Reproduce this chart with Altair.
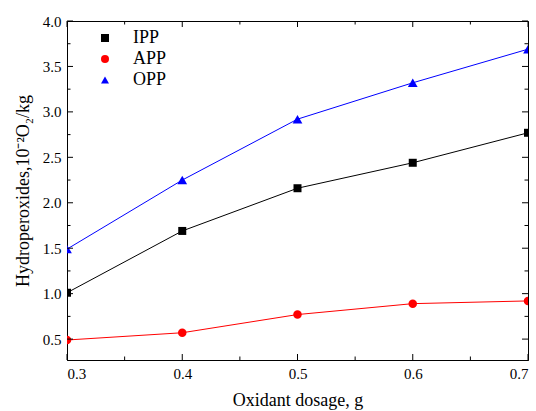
import altair as alt
import pandas as pd

# Hydroperoxide content versus oxidant dosage for three samples
dosage = [0.3, 0.4, 0.5, 0.6, 0.7]
ipp = [1.01, 1.69, 2.16, 2.44, 2.77]
app = [0.49, 0.57, 0.77, 0.89, 0.92]
opp = [1.49, 2.25, 2.92, 3.32, 3.69]

series_names = ["IPP", "APP", "OPP"]
series_colors = ["#000000", "#ff0000", "#0000ff"]
marker_shapes = ["square", "circle", "triangle-up"]
marker_sizes = [64, 72, 95]

x_major = [0.3, 0.4, 0.5, 0.6, 0.7]
x_minor = [0.35, 0.45, 0.55, 0.65]
y_major = [0.5, 1.0, 1.5, 2.0, 2.5, 3.0, 3.5, 4.0]
y_minor = [0.75, 1.25, 1.75, 2.25, 2.75, 3.25, 3.75]

X_MIN, X_MAX = 0.3, 0.7
Y_MIN, Y_MAX = 0.27, 4.0
W, H = 461, 339
MAJOR_LEN, MINOR_LEN = 6, 3.5  # tick lengths in pixels
FONT = "Liberation Serif"

rows = []
for name, vals in zip(series_names, [ipp, app, opp]):
    for d, v in zip(dosage, vals):
        rows.append({"dosage": d, "value": v, "series": name})
df = pd.DataFrame(rows)

x_scale = alt.Scale(domain=[X_MIN, X_MAX], nice=False, zero=False)
y_scale = alt.Scale(domain=[Y_MIN, Y_MAX], nice=False, zero=False)

x_axis = alt.Axis(values=x_major, format=".1f", ticks=False, labelPadding=6,
                  domain=True, title="Oxidant dosage, g", titlePadding=10)
y_axis = alt.Axis(values=y_major, format=".1f", ticks=False, labelPadding=6,
                  domain=True, title="Hydroperoxides,10\u207b\u00b2O\u2082/kg",
                  titlePadding=10)

# pixel tick lengths expressed in data units of each axis
x_per_px = (X_MAX - X_MIN) / W
y_per_px = (Y_MAX - Y_MIN) / H

# inward ticks: vertical ones on the bottom/top edges, horizontal ones on left/right
xt_rows = []
for vals, length in [(x_major, MAJOR_LEN), (x_minor, MINOR_LEN)]:
    dy = length * y_per_px
    for v in vals:
        xt_rows.append({"dosage": v, "y0": Y_MIN, "y1": Y_MIN + dy})
        xt_rows.append({"dosage": v, "y0": Y_MAX - dy, "y1": Y_MAX})
x_ticks_df = pd.DataFrame(xt_rows)

yt_rows = []
for vals, length in [(y_major, MAJOR_LEN), (y_minor, MINOR_LEN)]:
    dx = length * x_per_px
    for v in vals:
        yt_rows.append({"value": v, "x0": X_MIN, "x1": X_MIN + dx})
        yt_rows.append({"value": v, "x0": X_MAX - dx, "x1": X_MAX})
y_ticks_df = pd.DataFrame(yt_rows)

layers = []

# one line and one marker layer per series
for name, color, shape, size in zip(series_names, series_colors, marker_shapes, marker_sizes):
    sub = alt.Chart(df).transform_filter(alt.datum.series == name)
    layers.append(sub.mark_line(color=color, strokeWidth=1, clip=True).encode(
        x=alt.X("dosage:Q", scale=x_scale, axis=x_axis),
        y=alt.Y("value:Q", scale=y_scale, axis=y_axis),
    ))
    layers.append(sub.mark_point(shape=shape, filled=True, color=color, opacity=1,
                                 size=size, clip=True).encode(
        x=alt.X("dosage:Q", scale=x_scale, axis=x_axis),
        y=alt.Y("value:Q", scale=y_scale, axis=y_axis),
    ))

layers.append(alt.Chart(x_ticks_df).mark_rule(color="#000000", strokeWidth=1).encode(
    x=alt.X("dosage:Q", scale=x_scale, axis=x_axis),
    y=alt.Y("y0:Q", scale=y_scale, axis=y_axis),
    y2="y1:Q",
))
layers.append(alt.Chart(y_ticks_df).mark_rule(color="#000000", strokeWidth=1).encode(
    y=alt.Y("value:Q", scale=y_scale, axis=y_axis),
    x=alt.X("x0:Q", scale=x_scale, axis=x_axis),
    x2="x1:Q",
))

# legend entries for the three series
legend_def = alt.Legend(orient="none", legendX=29, legendY=8, title=None,
                        labelFont=FONT, labelFontSize=18, labelColor="#000000",
                        symbolSize=64, symbolStrokeWidth=0, labelOffset=19,
                        rowPadding=3, padding=0)
layers.append(alt.Chart(df).mark_point(filled=True, opacity=1).encode(
    x=alt.X("dosage:Q", scale=x_scale, axis=x_axis),
    y=alt.Y("value:Q", scale=y_scale, axis=y_axis),
    color=alt.Color("series:N", scale=alt.Scale(domain=series_names, range=series_colors),
                    legend=legend_def),
    shape=alt.Shape("series:N", scale=alt.Scale(domain=series_names, range=marker_shapes),
                    legend=legend_def),
).transform_filter("false"))

chart = alt.layer(*layers).properties(
    width=W, height=H,
    autosize=alt.AutoSizeParams(type="none"),
    padding={"left": 67, "top": 21, "right": 8, "bottom": 51},
).configure_view(
    stroke="#000000", strokeWidth=1
).configure_axis(
    labelFont=FONT, titleFont=FONT, labelFontSize=15, titleFontSize=18,
    titleFontWeight="normal", labelColor="#000000", titleColor="#000000",
    domainColor="#000000", domainWidth=1, grid=False,
)

chart.save("out.html", embed_options={"renderer": "svg", "actions": False})
